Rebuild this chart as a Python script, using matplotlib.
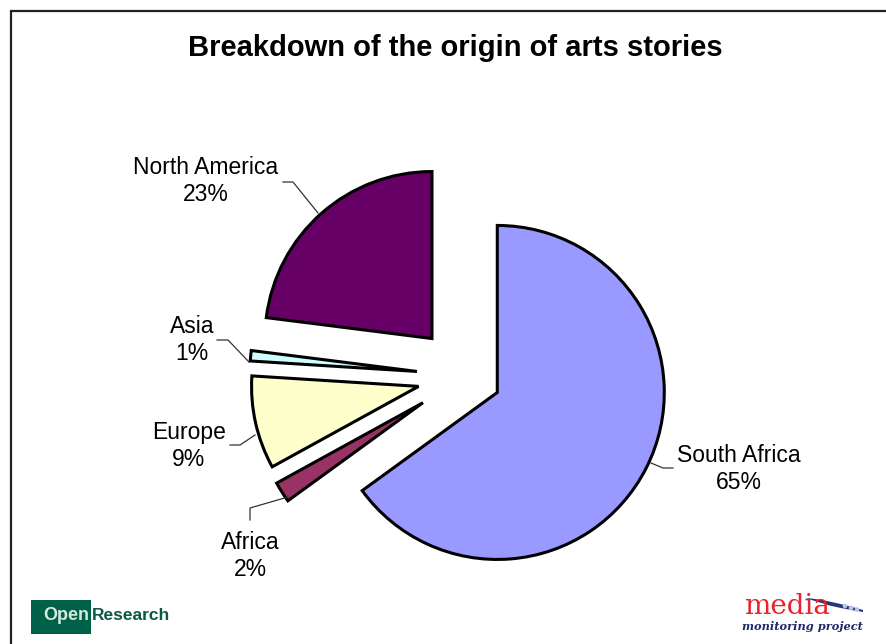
import matplotlib.pyplot as plt
import numpy as np
from matplotlib.patches import Rectangle, Circle, Polygon

regions = ['South Africa', 'Africa', 'Europe', 'Asia', 'North America']
shares = [65, 2, 9, 1, 23]
colors = ['#9999FF', '#993366', '#FFFFCC', '#CCFFFF', '#660066']
explode = [0.217, 0.298, 0.285, 0.289, 0.299]

W, H = 887, 644
R = 167


def Y(y):
    # pixel rows are counted from the top
    return H - y


fig = plt.figure(figsize=(W / 100, H / 100), dpi=100)
ax = fig.add_axes([0, 0, 1, 1])

# outer frame (left and top edges)
ax.plot([11, 11, W], [0, Y(11), Y(11)], color='#222222', lw=1.6,
        solid_joinstyle='miter')

ax.text(455, Y(48), 'Breakdown of the origin of arts stories', ha='center',
        va='center', fontsize=21, fontweight='bold', family='Liberation Sans')

# pie explode is given in data units, so scale by the radius
ax.pie(shares, colors=colors, explode=[e * R for e in explode], startangle=90,
       counterclock=False, center=(465, Y(376)), radius=R,
       wedgeprops=dict(edgecolor='black', linewidth=2.2, joinstyle='miter'),
       frame=True)
ax.set_xlim(0, W)
ax.set_ylim(0, H)
ax.set_aspect('equal')
ax.axis('off')

# labels and leader lines
label_pos = {
    'South Africa': (739, 469),
    'Africa': (250, 556),
    'Europe': (189, 446),
    'Asia': (192, 340),
    'North America': (206, 181),
}
leaders = {
    'South Africa': [(651, 463), (663, 468), (673, 468)],
    'Africa': [(250, 520), (250, 508), (288, 497)],
    'Europe': [(230, 445), (240, 445), (255, 435)],
    'Asia': [(217, 340), (228, 340), (249, 362)],
    'North America': [(283, 182), (293, 182), (318, 213)],
}
for name, pct in zip(regions, shares):
    x, y = label_pos[name]
    ax.text(x, Y(y), f'{name}\n{pct}%', ha='center', va='center',
            fontsize=16.5, family='Liberation Sans', linespacing=1.2)
    pts = leaders[name]
    ax.plot([p[0] for p in pts], [Y(p[1]) for p in pts], color='#333333',
            lw=0.9)

# OpenResearch logo
ax.add_patch(Rectangle((31, Y(634)), 60, 34, facecolor='#00614A',
                       edgecolor='none'))
ax.text(89, Y(616), 'Open', ha='right', va='center', fontsize=13,
        fontweight='bold', color='#D4EADB', family='Liberation Sans')
ax.text(92, Y(616), 'Research', ha='left', va='center', fontsize=12.5,
        fontweight='bold', color='#0B5A45', family='Liberation Sans')

# media monitoring project logo
t = np.linspace(0, 1, 40)
top_x = 805 + 58 * t
top_y = Y(598 + 12 * t ** 1.4)
bot_x = 825 + 38 * t
bot_y = Y(604 + 8 * t ** 0.8)
ax.add_patch(Polygon(np.column_stack([np.r_[top_x, bot_x[::-1]],
                                      np.r_[top_y, bot_y[::-1]]]),
                     closed=True, facecolor='#27357A', edgecolor='none'))
for cx, cy in ((845, 606), (851, 608), (857, 609.5)):
    ax.add_patch(Circle((cx, Y(cy)), 2.3, facecolor='#B8C4E8',
                        edgecolor='none'))
ax.text(787, Y(606), 'media', ha='center', va='center', fontsize=20,
        color='#E8232D', family='DejaVu Serif')
ax.text(802, Y(627), 'monitoring project', ha='center', va='center',
        fontsize=8.2, fontweight='bold', style='italic', color='#1E2A66',
        family='DejaVu Serif')

fig.savefig('out.png', dpi=100)
